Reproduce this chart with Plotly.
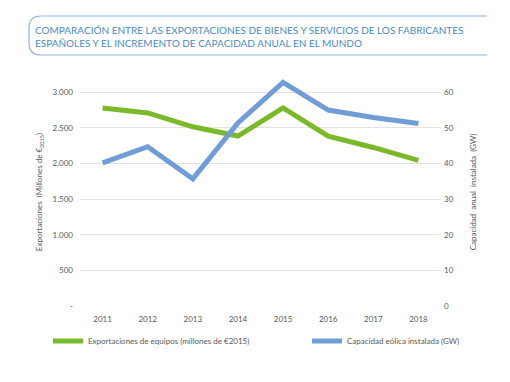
import plotly.graph_objects as go

years = ["2011", "2012", "2013", "2014", "2015", "2016", "2017", "2018"]
exportaciones = [2780, 2710, 2515, 2385, 2780, 2385, 2225, 2045]
capacidad = [40.2, 44.7, 35.7, 51.4, 62.8, 55.0, 52.9, 51.2]

left_ticks = [0, 500, 1000, 1500, 2000, 2500, 3000]
left_labels = ["-", "500", "1.000", "1.500", "2.000", "2.500", "3.000"]
right_ticks = [0, 10, 20, 30, 40, 50, 60]

title_lines = ["COMPARACIÓN ENTRE LAS EXPORTACIONES DE BIENES Y SERVICIOS DE LOS FABRICANTES",
               "ESPAÑOLES Y EL INCREMENTO DE CAPACIDAD ANUAL EN EL MUNDO"]

GREEN = "#7ab929"
BLUE = "#6f9dd6"
GRID = "#e3e3e3"
TXT = "#595959"
FONT = "Lato, 'Open Sans', sans-serif"

# page body has an 8px margin; lay the figure out in screen coordinates
OFF = 8
W, H = 510 - OFF, 382 - OFF
ml, mt = 80 - OFF, 78 - OFF
mr, mb = W - (441 - OFF), H - (306 - OFF)
pw, ph = W - ml - mr, H - mt - mb

def px(x):
    return (x - OFF - ml) / pw

def py(y):
    return (H - mb - (y - OFF)) / ph

fig = go.Figure()
fig.add_trace(go.Scatter(x=years, y=exportaciones, mode="lines",
                         name="Exportaciones de equipos (millones de €2015)",
                         line=dict(color=GREEN, width=5), yaxis="y", legend="legend"))
fig.add_trace(go.Scatter(x=years, y=capacidad, mode="lines",
                         name="Capacidad eólica instalada (GW)",
                         line=dict(color=BLUE, width=5), yaxis="y2", legend="legend2"))

leg_common = dict(orientation="h", yanchor="middle", xanchor="left", itemwidth=30,
                  font=dict(size=8, color=TXT), bgcolor="rgba(0,0,0,0)",
                  borderwidth=0, tracegroupgap=0)

fig.update_layout(
    width=W, height=H,
    margin=dict(l=ml, r=mr, t=mt, b=mb, autoexpand=False),
    paper_bgcolor="white", plot_bgcolor="white",
    font=dict(family=FONT, color=TXT, size=8),
    showlegend=True,
    legend=dict(x=px(48), y=py(341), **leg_common),
    legend2=dict(x=px(307), y=py(341), **leg_common),
    xaxis=dict(type="category", range=[-0.5, 7.5], showgrid=False, zeroline=False,
               showline=False, ticks="", automargin=False,
               tickfont=dict(size=8, color=TXT), ticklabelstandoff=7),
    yaxis=dict(range=[0, 3200], tickvals=left_ticks, ticktext=left_labels, automargin=False,
               showgrid=True, gridcolor=GRID, gridwidth=1, zeroline=False, showline=False,
               tickfont=dict(size=8, color=TXT), ticklabelstandoff=6,
               title=dict(text="Exportaciones  (Millones de €<sub>2015</sub>)",
                          font=dict(size=8, color=TXT), standoff=8)),
    yaxis2=dict(range=[0, 64], tickvals=right_ticks, overlaying="y", side="right",
                showgrid=False, zeroline=False, showline=False, automargin=False,
                tickfont=dict(size=8, color=TXT), ticklabelstandoff=2,
                title=dict(text="Capacidad  anual  instalada  (GW)",
                           font=dict(size=8, color=TXT), standoff=17)),
)

# title box: open on the right, rounded on the left
x0, x1, y0, y1, r = px(29), px(487), py(16), py(55), 12
rx = r / pw
ry = r / ph
path = (f"M {x1},{y0} L {x0 + rx},{y0} Q {x0},{y0} {x0},{y0 - ry} "
        f"L {x0},{y1 + ry} Q {x0},{y1} {x0 + rx},{y1} L {x1},{y1}")
fig.add_shape(type="path", path=path, xref="paper", yref="paper",
              line=dict(color="#8db4de", width=1.2))

fig.add_annotation(text="<br>".join(title_lines), xref="paper", yref="paper",
                   x=px(33), y=py(36.5), xanchor="left", yanchor="middle",
                   align="left", showarrow=False,
                   font=dict(family=FONT, size=10, color="#4a8cc8"))

fig.write_html("out.html")
